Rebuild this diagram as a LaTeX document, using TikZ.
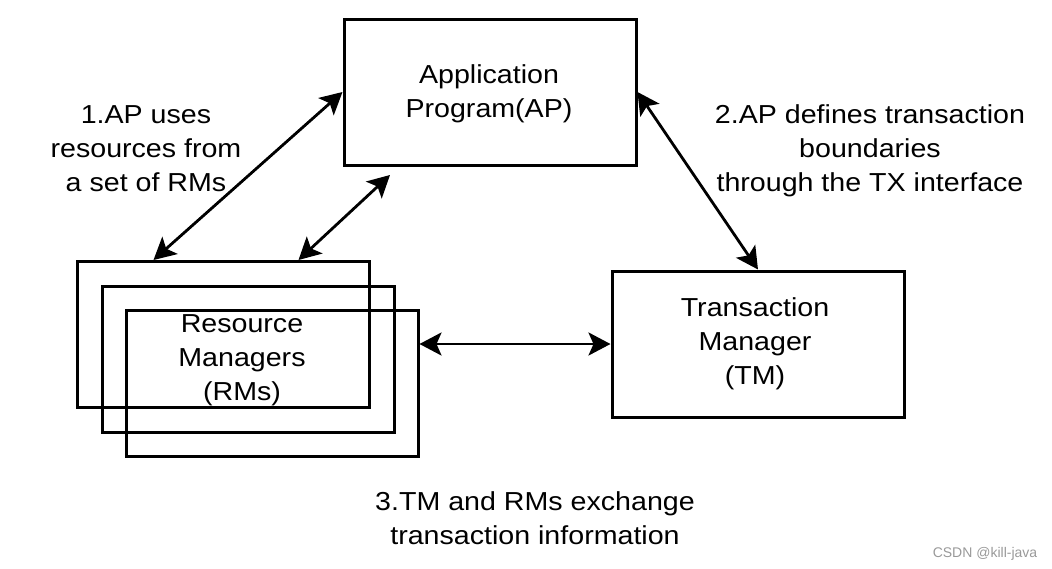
\documentclass[tikz,border=0pt]{standalone}
\usepackage{fontspec}
\setmainfont{Liberation Sans}[FakeStretch=1.1]
\newfontfamily\wmfont{Liberation Sans}
\usetikzlibrary{arrows.meta}
\newcommand\mlines[1]{\begin{tabular}[t]{@{}c@{}}#1\end{tabular}}
\begin{document}
\begin{tikzpicture}[x=1pt,y=-1pt,
  box/.style={draw, line width=3pt, minimum width=292pt, minimum height=146pt, inner sep=0pt},
  lbl/.style={inner sep=0pt, anchor=base, font=\fontsize{26}{34}\selectfont},
  link/.style={line width=2.8pt, {Stealth[length=22pt,width=23pt,inset=5pt]}-{Stealth[length=22pt,width=23pt,inset=5pt]}}]
\useasboundingbox (0,0) rectangle (1052,568);

% boxes
\node[box] (ap)  at (490,92) {};
\node[box] (rm1) at (223.5,334.5) {};
\node[box] (rm2) at (248,359.5) {};
\node[box] (rm3) at (272,383.5) {};
\node[box] (tm)  at (758,344) {};

% box texts
\node[lbl] (aptext) at (489,83)  {\mlines{Application\\Program(AP)}};
\node[lbl] (rmtext) at (242,332) {\mlines{Resource\\Managers\\(RMs)}};
\node[lbl] (tmtext) at (755,316) {\mlines{Transaction\\Manager\\(TM)}};

% labels
\node[lbl] (l1) at (146,123) {\mlines{1.AP uses\\resources from\\a set of RMs}};
\node[lbl] (l2) at (870,123) {\mlines{2.AP defines transaction\\boundaries\\through the TX interface}};
\node[lbl] (l3) at (535,510) {\mlines{3.TM and RMs exchange\\transaction information}};

% connectors
\coordinate (a2) at (390,175);
\draw[link] ([xshift=77.5pt]rm1.north west) -- (ap.west);
\draw[link] ([xshift=222.5pt]rm1.north west) -- (a2);
\draw[link] (ap.east) -- (tm.north);
\draw[link] (tm.west) -- (tm.west -| rm3.east);

% watermark
\node[text=gray!80, font=\wmfont\fontsize{14}{16}\selectfont, anchor=base, inner sep=0pt] (wm) at (985,557) {CSDN @kill-java};
\end{tikzpicture}
\end{document}
